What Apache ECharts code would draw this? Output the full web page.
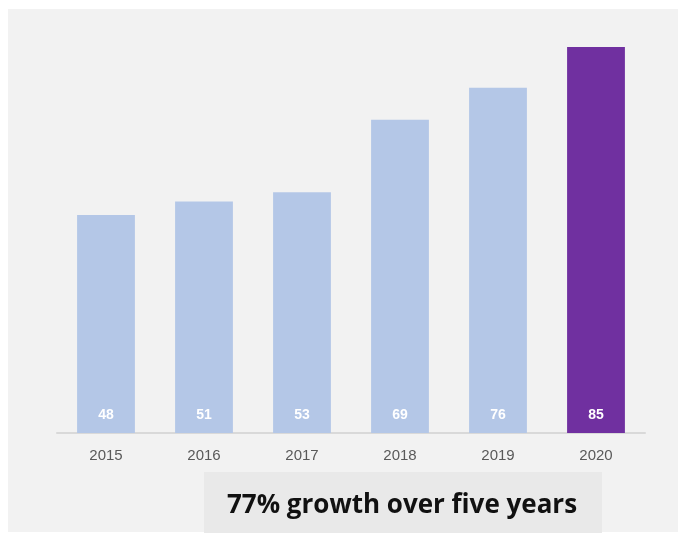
<!DOCTYPE html>
<html>
<head>
<meta charset="utf-8">
<script src="https://cdn.jsdelivr.net/npm/echarts@6/dist/echarts.min.js"></script>
<style>
html,body{margin:0;padding:0;background:#fff;}
#c{width:678px;height:533px;}
</style>
</head>
<body>
<div id="c"></div>
<script>
const categories = ['2015', '2016', '2017', '2018', '2019', '2020'];
const values = [48, 51, 53, 69, 76, 85];
const highlightYear = '2020';
const caption = '77% growth over five years';

const chart = echarts.init(document.getElementById('c'));
chart.setOption({
  backgroundColor: '#ffffff',
  animation: false,
  graphic: [
    { type: 'rect', z: -10, shape: { x: 8, y: 9, width: 670, height: 523 }, style: { fill: '#f2f2f2' } },
    { type: 'rect', z: -9, shape: { x: 204, y: 472, width: 398, height: 61 }, style: { fill: '#e9e9e9' } },
    { type: 'text', z: 10, x: 402, y: 506, style: { text: caption, fill: '#111', font: 'bold 26px "Open Sans"', textAlign: 'center', textVerticalAlign: 'middle' } }
  ],
  grid: { left: 57, right: 33, top: 47, bottom: 100 },
  xAxis: {
    type: 'category',
    data: categories,
    axisLine: { lineStyle: { color: '#d9d9d9', width: 2 } },
    axisTick: { show: false },
    axisLabel: { color: '#595959', fontSize: 15, fontFamily: 'Liberation Sans', margin: 15 }
  },
  yAxis: { type: 'value', min: 0, max: 85, show: false, splitLine: { show: false } },
  series: [{
    type: 'bar',
    barWidth: '59%',
    data: values.map((v, i) => ({ value: v, itemStyle: { color: categories[i] === highlightYear ? '#7030a0' : '#b4c7e7' } })),
    label: {
      show: true, position: 'insideBottom', distance: 11,
      color: '#ffffff', fontWeight: 'bold', fontSize: 14, fontFamily: 'Liberation Sans'
    }
  }]
});
</script>
</body>
</html>
